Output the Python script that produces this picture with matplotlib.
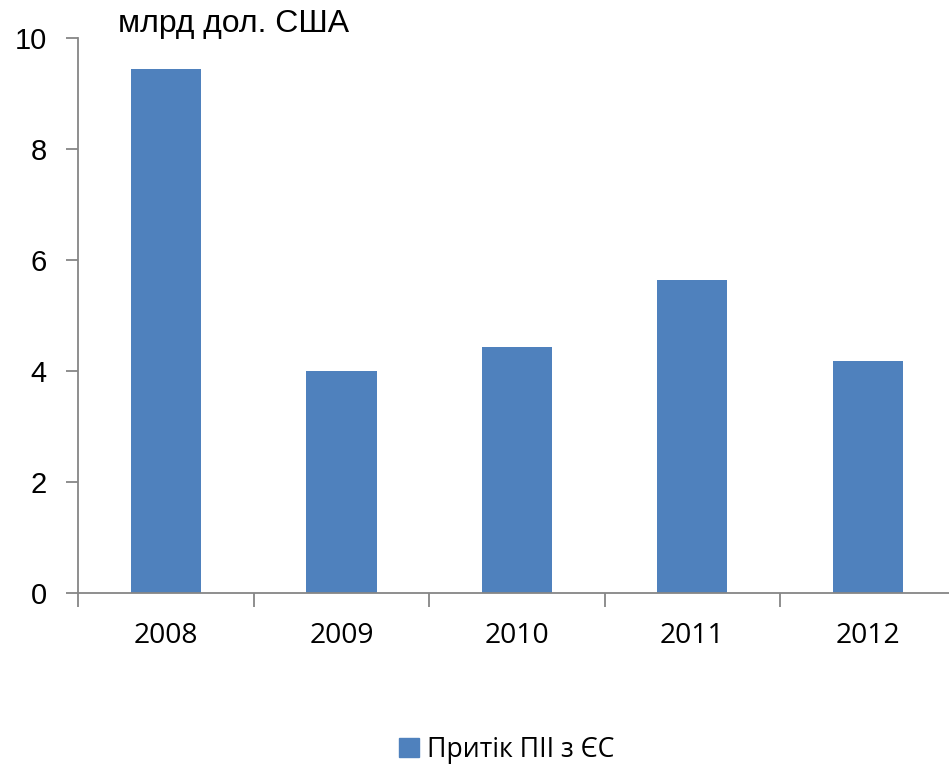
import numpy as np
import matplotlib
matplotlib.use("Agg")
import matplotlib.pyplot as plt
from matplotlib.patches import Patch

# дані
years = ["2008", "2009", "2010", "2011", "2012"]
inflow = [9.45, 4.0, 4.43, 5.64, 4.18]
series_name = "Притік ПІІ з ЄС"
unit_label = "млрд дол. США"

bar_color = "#4F81BD"
axis_color = "#868686"

fig = plt.figure(figsize=(9.49, 7.66), dpi=100)
ax = fig.add_axes([0.0827, 0.2265, 0.924, 0.7235])

x = np.arange(len(years))
ax.bar(x, inflow, width=0.4, color=bar_color, zorder=2)

ax.set_xlim(-0.5, len(years) - 0.5)
ax.set_ylim(0, 10)
ax.set_yticks(np.arange(0, 11, 2))
ax.set_yticklabels([str(v) for v in range(0, 11, 2)],
                   fontfamily="Liberation Sans", fontsize=21)

ax.set_xticks(x)
ax.set_xticklabels(years, fontfamily="Open Sans", fontsize=20.3)
ax.set_xticks(np.arange(-0.5, len(years)), minor=True)
ax.tick_params(axis="x", which="major", length=0, pad=21)
ax.tick_params(axis="x", which="minor", length=10, width=1.3,
               color=axis_color, direction="out")
ax.tick_params(axis="y", length=9, width=1.3, color=axis_color, pad=14)

for side in ["top", "right"]:
    ax.spines[side].set_visible(False)
for side in ["left", "bottom"]:
    ax.spines[side].set_color(axis_color)
    ax.spines[side].set_linewidth(1.3)

fig.text(118 / 949, 1 - 24 / 766, unit_label, fontfamily="Liberation Sans",
         fontsize=23, va="center", ha="left")

fig.legend(handles=[Patch(color=bar_color, label=series_name)],
           loc="center", bbox_to_anchor=(0.534, 1 - 750 / 766),
           frameon=False, prop={"family": "Open Sans", "size": 19.2},
           handlelength=0.75, handleheight=0.75, handletextpad=0.3)

fig.savefig("out.png", dpi=100)
